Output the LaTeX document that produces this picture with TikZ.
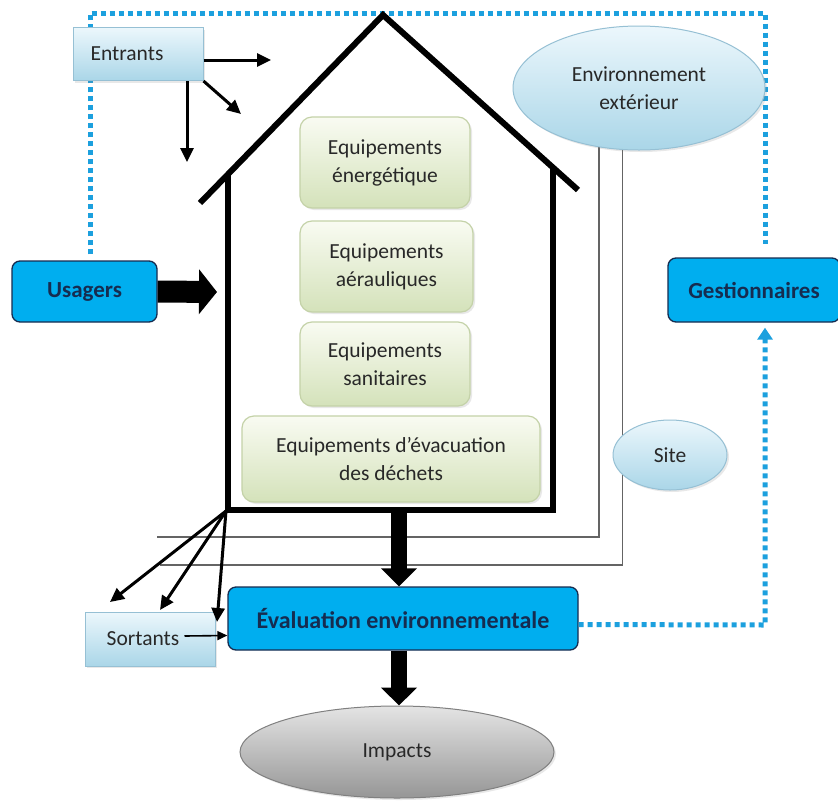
\documentclass[tikz,border=0pt]{standalone}
\usepackage{fontspec}
\setmainfont{Carlito}
\usetikzlibrary{arrows.meta,shapes.geometric,shadows,calc}

\definecolor{cyanbox}{RGB}{0,174,239}
\definecolor{navy}{RGB}{22,44,80}
\definecolor{dotblue}{RGB}{28,160,222}
\definecolor{txtgray}{RGB}{40,40,40}
\definecolor{greenTop}{RGB}{249,251,242}
\definecolor{greenBot}{RGB}{212,226,186}
\definecolor{greenEdge}{RGB}{196,210,168}
\definecolor{iceTop}{RGB}{236,247,252}
\definecolor{iceBot}{RGB}{170,214,232}
\definecolor{iceEdge}{RGB}{150,192,212}
\definecolor{greyTop}{RGB}{228,228,228}
\definecolor{greyBot}{RGB}{150,150,150}
\definecolor{wireGrey}{RGB}{100,100,100}

\pgfdeclarelayer{bg}
\pgfsetlayers{bg,main}

\newcommand\txtA{\fontsize{21.5}{28}\selectfont}
\newcommand\txtB{\fontsize{23}{28}\selectfont}

\tikzset{
  softshadow/.style={drop shadow={opacity=0.18, shadow xshift=2pt, shadow yshift=-2pt}},
  equip/.style={rectangle, rounded corners=12pt, draw=greenEdge, line width=1.2pt,
    top color=greenTop, bottom color=greenBot, text=txtgray, font=\txtA,
    align=center, inner sep=0pt, softshadow},
  flowbox/.style={rectangle, draw=iceEdge, line width=1pt,
    top color=iceTop, bottom color=iceBot, text=txtgray, font=\txtA,
    inner sep=0pt, softshadow},
  actor/.style={rectangle, rounded corners=8pt, draw=navy, line width=1.3pt,
    fill=cyanbox, text=navy, font=\txtB\bfseries, inner sep=0pt},
  cloud/.style={ellipse, draw=iceEdge, line width=1pt,
    top color=iceTop, bottom color=iceBot, text=txtgray, font=\txtA,
    align=center, inner sep=0pt, softshadow},
  wall/.style={line width=6pt, line join=miter, black},
  thinarrow/.style={line width=3pt, -{Triangle[length=14pt,width=13pt]}},
  smallarrow/.style={line width=1.6pt, -{Triangle[length=10pt,width=9pt]}},
  bigarrow/.style={line width=22pt, -{Triangle[length=18pt,width=44pt]}},
  downarrow/.style={line width=16pt, -{Triangle[length=18pt,width=35pt]}},
  dotline/.style={line width=5pt, dotblue, dash pattern=on 5pt off 4pt},
  wire/.style={line width=1.6pt, wireGrey},
}

\begin{document}
\begin{tikzpicture}[x=1pt,y=-1pt]
\useasboundingbox (0,0) rectangle (838,809);
\begin{pgfonlayer}{bg}
  \fill[white] (0,0) rectangle (838,809);
\end{pgfonlayer}

% --- nodes ---
\node[flowbox, minimum width=130pt, minimum height=53pt] (entrants) at (138,54) {Entrants\hspace*{22pt}};
\node[flowbox, minimum width=130pt, minimum height=54pt] (sortants) at (150,639) {Sortants\hspace*{14pt}};
\node[actor, minimum width=145pt, minimum height=61pt] (usagers) at (84.5,291.5) {Usagers};
\node[actor, minimum width=172pt, minimum height=64pt] (gest) at (754,290) {Gestionnaires};
\node[actor, minimum width=350pt, minimum height=63pt, font=\fontsize{24}{28}\selectfont\bfseries] (eval) at (403,618.5) {Évaluation environnementale};
\node[cloud, minimum width=252pt, minimum height=124pt] (env) at (639,88) {Environnement\\extérieur};
\node[cloud, minimum width=114pt, minimum height=70pt] (site) at (670,455) {Site};
\node[ellipse, draw=gray, line width=1pt, top color=greyTop, bottom color=greyBot,
      text=txtgray, font=\txtA, inner sep=0pt, softshadow,
      minimum width=314pt, minimum height=92pt] (impacts) at (397,752) {Impacts};

\node[equip, minimum width=170pt, minimum height=91pt] (e1) at (385,162.5) {Equipements\\énergétique};
\node[equip, minimum width=173pt, minimum height=91pt] (e2) at (386.5,266.5) {Equipements\\aérauliques};
\node[equip, minimum width=170pt, minimum height=84pt] (e3) at (385,364) {Equipements\\sanitaires};
\node[equip, minimum width=298pt, minimum height=86pt] (e4) at (391,459) {Equipements d’évacuation\\des déchets};

% --- house outline ---
\coordinate (apex) at (383,15);
\coordinate (roofL) at (200,203);
\coordinate (roofR) at (578,190);
\coordinate (wallTL) at (228,173);
\coordinate (wallBL) at (228,510);
\coordinate (wallBR) at (553,510);
\coordinate (wallTR) at (553,168);
\coordinate (floorpt) at (399,510);
\coordinate (corner) at (226,511);

% --- background: monitoring loop and site wires ---
\coordinate (tl) at (90,13);
\coordinate (tr) at (765,13);
\coordinate (br) at (765,625);
\begin{pgfonlayer}{bg}
  \draw[dotline] ($(usagers.north -| tl)+(0,-6)$) -- (tl) -- (tr) -- ($(tr |- gest.north)+(0,-13)$);
  \draw[wire] (env.236) |- (157,537);
  \draw[wire] (env.255) |- (160,565);
\end{pgfonlayer}
\draw[dotline, -{Triangle[length=12pt,width=15pt]}] ($(eval.east)+(0,6)$) -- (br) -- ($(br |- gest.south)+(0,5)$);

\draw[wall] (roofL) -- (apex) -- (roofR);
\draw[wall] (wallTL) -- (wallBL) -- (wallBR) -- (wallTR);

% --- inputs ---
\draw[thinarrow] ($(entrants.east)+(0,6)$) -- (271,60);
\draw[thinarrow] (entrants.south east) -- (241,114);
\draw[thinarrow] ($(entrants.south)+(49,0)$) -- (187,162);
\draw[bigarrow] (usagers.east) -- (217,292);

% --- outputs ---
\coordinate (outA) at (110,602);
\coordinate (outB) at (160,610);
\coordinate (outC) at (217,622);
\draw[thinarrow] (corner) -- (outA);
\draw[thinarrow] (corner) -- (outB);
\draw[thinarrow] (corner) -- (outC);
\draw[smallarrow] ($(sortants.east)+(-31,-3)$) -- ($(eval.west)+(0,17)$);

\draw[downarrow] (floorpt) -- (floorpt |- eval.north);
\draw[downarrow] (eval.south -| floorpt) -- (impacts.north -| floorpt);
\end{tikzpicture}
\end{document}
